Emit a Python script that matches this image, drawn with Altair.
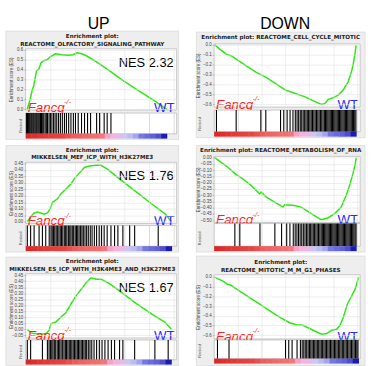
import altair as alt
import pandas as pd

# ---------------- data ----------------
headers = ["UP", "DOWN"]

l1_title = ["Enrichment plot:", "REACTOME_OLFACTORY_SIGNALING_PATHWAY"]
l2_title = ["Enrichment plot:", "MIKKELSEN_MEF_ICP_WITH_H3K27ME3"]
l3_title = ["Enrichment plot:", "MIKKELSEN_ES_ICP_WITH_H3K4ME3_AND_H3K27ME3"]
r1_title = ["Enrichment plot: REACTOME_CELL_CYCLE_MITOTIC"]
r2_title = ["Enrichment plot: REACTOME_METABOLISM_OF_RNA"]
r3_title = ["Enrichment plot:", "REACTOME_MITOTIC_M_M_G1_PHASES"]

nes_labels = ["NES 2.32", "NES 1.76", "NES 1.67"]
group_a = "Fancg"
group_a_sup = "-/-"
group_b = "WT"
es_title = "Enrichment score (ES)"
rank_title = "Ranked"

# running enrichment score curves (x = position along ranked list, % of axis)
l1_x = [1.1, 2.8, 4.3, 5.4, 7.2, 8.7, 10.2, 12.0, 14.1, 16.3, 19.6, 23.9, 28.3, 31.5,
        34.1, 37.0, 40.2, 46.7, 55.4, 64.1, 75.0, 85.9, 93.5]
l1_y = [0.00, 0.09, 0.19, 0.24, 0.39, 0.405, 0.47, 0.49, 0.50, 0.53, 0.56, 0.55, 0.545, 0.55,
        0.57, 0.56, 0.54, 0.48, 0.39, 0.295, 0.185, 0.08, 0.00]

l2_x = [1.1, 3.3, 5.6, 7.8, 10.0, 12.2, 14.4, 16.2, 17.8, 21.1, 23.3, 26.7, 30.0, 32.2,
        34.9, 36.7, 38.9, 42.2, 46.7, 50.0, 54.4, 61.1, 72.2, 83.3, 92.2, 96.7]
l2_y = [0.0, 0.038, 0.068, 0.076, 0.068, 0.058, 0.068, 0.10, 0.15, 0.177, 0.215, 0.253, 0.29, 0.33,
        0.367, 0.39, 0.418, 0.43, 0.435, 0.435, 0.404, 0.34, 0.24, 0.139, 0.063, 0.0]

l3_x = [1.1, 3.3, 5.6, 10.0, 13.3, 15.6, 16.7, 20.0, 23.3, 26.7, 30.0, 33.3, 36.7, 40.0,
        43.3, 46.7, 50.0, 54.4, 61.1, 72.2, 83.3, 92.2, 96.5]
l3_y = [0.0, -0.028, -0.036, -0.039, -0.04, -0.008, 0.046, 0.06, 0.10, 0.14, 0.21, 0.278, 0.33, 0.387,
        0.428, 0.415, 0.415, 0.387, 0.33, 0.223, 0.128, 0.06, 0.0]

r1_x = [0.5, 3.8, 8.3, 11.7, 15.1, 21.8, 28.6, 35.4, 42.1, 48.9, 55.6, 62.4, 69.1, 73.6,
        75.9, 78.2, 81.5, 84.9, 88.3, 91.7, 94.0, 95.5, 96.6, 97.3]
r1_y = [0.0, -0.043, -0.093, -0.109, -0.143, -0.209, -0.275, -0.325, -0.39, -0.457, -0.49, -0.524,
        -0.573, -0.60, -0.59, -0.55, -0.534, -0.507, -0.457, -0.375, -0.275, -0.176, -0.076, 0.0]

r2_x = [0.5, 5.0, 9.6, 14.1, 19.8, 25.5, 31.2, 32.3, 35.8, 41.5, 47.2, 48.3, 55.1, 59.7,
        66.5, 73.3, 77.9, 82.5, 87.0, 90.4, 92.7, 95.0, 96.6, 97.3]
r2_y = [0.0, -0.04, -0.079, -0.126, -0.171, -0.224, -0.29, -0.276, -0.316, -0.355, -0.395, -0.376,
        -0.382, -0.395, -0.447, -0.495, -0.482, -0.447, -0.395, -0.303, -0.224, -0.132, -0.053, 0.0]

r3_x = [0.7, 2.3, 5.8, 9.2, 11.5, 17.2, 24.1, 31.0, 37.9, 44.8, 51.7, 56.3, 60.9, 67.8,
        73.6, 77.0, 80.5, 83.9, 86.2, 88.5, 91.3, 94.3, 96.6, 98.2, 98.9]
r3_y = [0.0, -0.017, -0.04, -0.075, -0.085, -0.142, -0.21, -0.278, -0.346, -0.414, -0.471, -0.492,
        -0.498, -0.549, -0.59, -0.583, -0.549, -0.539, -0.498, -0.414, -0.278, -0.193, -0.125, -0.04, 0.0]

# gene-set hits (barcode)
l1_hits = [0.5, 1.2, 1.8, 2.4, 3.0, 3.7, 4.3, 5.0, 5.6, 6.3, 7.0, 7.6, 8.3, 9.0, 9.8, 10.5, 11.3,
           12.0, 12.9, 13.7, 14.5, 15.5, 16.4, 17.4, 18.5, 19.5, 20.6, 21.8, 23.0, 24.3, 25.7, 27.0,
           28.5, 30.0, 31.6, 33.0, 34.8, 37.0, 39.0, 41.0, 43.0, 47.0, 49.0, 52.0, 54.0, 56.5]
l2_hits = [1.1, 3.3, 5.6, 8.9, 11.1, 13.3, 15.6, 16.8, 17.6, 18.5, 19.3, 20.2, 21.0, 22.0, 22.9,
           23.7, 24.6, 25.6, 26.5, 27.3, 28.3, 29.2, 30.0, 30.9, 31.8, 32.8, 33.7, 34.5, 35.4, 36.4,
           37.3, 38.2, 39.3, 40.4, 41.5, 42.8, 44.0, 45.5, 47.0, 48.7, 50.3, 52.0, 54.0, 56.5, 58.9,
           61.1, 64.4, 68.9, 72.2, 87.8]
l3_hits = [1.1, 3.3, 11.1, 14.4, 15.5, 16.4, 17.3, 18.1, 19.0, 19.9, 20.9, 21.8, 22.6, 23.5, 24.5,
           25.4, 26.3, 27.1, 28.0, 28.9, 29.8, 30.6, 31.5, 32.4, 33.3, 34.2, 35.0, 35.9, 36.8, 37.7,
           38.6, 39.5, 40.4, 41.5, 42.6, 43.8, 45.3, 47.0, 48.8, 50.6, 52.5, 54.6, 56.8, 58.9, 62.2,
           64.4, 72.2, 85.6, 94.4]
r1_hits = [1.6, 15.1, 32.0, 35.4, 45.5, 47.7, 50.0, 52.0, 54.0, 55.6, 56.8, 57.9, 59.0, 60.0, 61.0,
           62.0, 62.9, 63.8, 64.7, 65.6, 66.5, 67.4, 68.3, 69.2, 70.1, 71.0, 71.9, 72.8, 73.7, 74.6,
           75.5, 76.3, 77.1, 77.9, 78.7, 79.5, 80.3, 81.1, 81.9, 82.7, 83.5, 84.3, 85.1, 85.9, 86.7,
           87.5, 88.3, 89.1, 89.9, 90.7, 91.5, 92.3, 93.1, 93.9, 94.7, 95.5, 96.3, 97.1]
r2_hits = [14.2, 17.6, 31.4, 41.6, 46.2, 49.7, 51.9, 54.2, 55.5, 56.7, 57.8, 58.9, 60.0, 61.1, 62.2,
           63.2, 64.2, 65.2, 66.1, 67.0, 67.9, 68.8, 69.7, 70.6, 71.5, 72.4, 73.3, 74.1, 74.9, 75.7,
           76.5, 77.3, 78.1, 78.9, 79.7, 80.5, 81.3, 82.1, 82.9, 83.7, 84.5, 85.3, 86.1, 86.9, 87.7,
           88.5, 89.3, 90.1, 90.9, 91.7, 92.5, 93.3, 94.1, 94.9, 95.7, 96.5, 97.2]
r3_hits = [2.3, 10.2, 48.9, 51.1, 53.4, 56.8, 59.1, 60.3, 61.4, 62.4, 63.4, 64.4, 65.3, 66.2, 67.1,
           68.0, 68.9, 69.8, 70.7, 71.6, 72.5, 73.4, 74.3, 75.2, 76.1, 77.0, 77.9, 78.8, 79.7, 80.6,
           81.5, 82.4, 83.3, 84.2, 85.1, 86.0, 86.9, 87.8, 88.7, 89.6, 90.5, 91.4, 92.3, 93.2, 94.1,
           95.0, 95.9, 96.8, 97.7, 98.5]

# ranked-list metric, in bands from the top to the bottom of the list
metric_bands = [1.0, 0.97, 0.94, 0.92, 0.9, 0.88, 0.86, 0.8, 0.72, 0.68, 0.65, 0.62, 0.6, 0.56,
                0.3, 0.2, 0.1, -0.15, -0.25, -0.35, -0.55, -0.6, -0.65, -0.75, -1.0]

# axis ticks
l1_ticks = [0.0, 0.1, 0.2, 0.3, 0.4, 0.5, 0.6]
l2_ticks = [0.0, 0.05, 0.10, 0.15, 0.20, 0.25, 0.30, 0.35, 0.40, 0.45]
l3_ticks = [-0.05, 0.0, 0.05, 0.10, 0.15, 0.20, 0.25, 0.30, 0.35, 0.40, 0.45]
r1_ticks = [0.0, -0.1, -0.2, -0.3, -0.4, -0.5, -0.6]
r2_ticks = [0.0, -0.05, -0.10, -0.15, -0.20, -0.25, -0.30, -0.35, -0.40, -0.45, -0.50]
r3_ticks = [0.0, -0.1, -0.2, -0.3, -0.4, -0.5, -0.6]
grid_x = [16.3, 32.6, 48.9, 65.2, 81.5, 97.8]

# ---------------- styling ----------------
GREEN = "#2ee814"
RED = "#ff2020"
BLUE = "#2a2aff"
FRAME_FILL = "#eeeeee"
FRAME_STROKE = "#d2d2d2"
BORDER = "#a8a8a8"
GRID = "#e2e2e2"
SANS = "Liberation Sans"
TITLE_FONT = "DejaVu Sans"
XS = alt.Scale(domain=[0, 100], nice=False, zero=False)
one = pd.DataFrame({"k": [0]})
NOSTROKE = alt.ViewBackground(stroke="transparent")


def txt(text, x, y, **kw):
    return alt.Chart(one).mark_text(text=text, **kw).encode(x=alt.value(x), y=alt.value(y))


def blank(w, h, label=None, lx=0, ly=0):
    layers = [alt.Chart(one).mark_point(opacity=0).encode(x=alt.value(0), y=alt.value(0))]
    if label:
        layers.append(txt(label, lx, ly, font=SANS, fontSize=16, color="black", align="center"))
    return alt.layer(*layers).properties(width=w, height=h, view=NOSTROKE)


def line_cell(title_lines, xs, ys, ydom, yticks, yfmt, nes, w, h, below, fl, fr, ft, ytitle_x):
    frame = alt.Chart(one).mark_rect(fill=FRAME_FILL, stroke=FRAME_STROKE, strokeWidth=0.6).encode(
        x=alt.value(-fl), x2=alt.value(w + fr), y=alt.value(-ft), y2=alt.value(h + below))
    plot_bg = alt.Chart(one).mark_rect(fill="white", stroke=BORDER, strokeWidth=0.6).encode(
        x=alt.value(0), x2=alt.value(w), y=alt.value(0), y2=alt.value(h))
    df = pd.DataFrame({"x": xs, "y": ys})
    line = alt.Chart(df).mark_line(color=GREEN, strokeWidth=1.5).encode(
        x=alt.X("x:Q", scale=XS,
                axis=alt.Axis(values=grid_x, grid=True, gridColor=GRID, gridWidth=0.6,
                              labels=False, ticks=False, domain=False, title=None, zindex=1)),
        y=alt.Y("y:Q", scale=alt.Scale(domain=ydom, nice=False, zero=False),
                axis=alt.Axis(values=yticks, format=yfmt, grid=True, gridColor=GRID, gridWidth=0.6,
                              domain=False, tickSize=2, tickColor="#999", tickWidth=0.5,
                              labelFontSize=4.5, labelFont=SANS, labelColor="#444",
                              labelPadding=1, labelOverlap=False,
                              title=es_title, titleFontSize=4.5, titleFont=SANS,
                              titleFontWeight="normal", titleColor="#444",
                              titleX=ytitle_x, titleY=h / 2, titleBaseline="middle",
                              zindex=1)))
    layers = [frame, plot_bg, line]
    cx = (-fl + w + fr) / 2
    ty = [-12.5, -5.2] if len(title_lines) == 2 else [-6.7]
    for t, yy in zip(title_lines, ty):
        layers.append(txt(t, cx, yy, font=TITLE_FONT, fontSize=5.7, fontWeight="bold",
                          color="#222222", align="center", baseline="middle"))
    if nes:
        layers.append(txt(nes, w - 3, 14, font=SANS, fontSize=13, color="black", align="right"))
    layers.append(txt(group_a, 2, h - 2, font=SANS, fontSize=13.5, fontStyle="italic",
                      color=RED, align="left"))
    layers.append(txt(group_a_sup, 39, h - 8, font=SANS, fontSize=7.5, fontStyle="italic",
                      color=RED, align="left"))
    layers.append(txt(group_b, w - 2, h - 2, font=SANS, fontSize=13.5, color=BLUE, align="right"))
    return alt.layer(*layers).properties(width=w, height=h)


def barcode_cell(hits, w, hb, rank_x):
    dh = pd.DataFrame({"x": hits})
    rules = alt.Chart(dh).mark_rule(color="black", strokeWidth=1.1).encode(
        x=alt.X("x:Q", scale=XS,
                axis=alt.Axis(values=grid_x, grid=True, gridColor="#c4c4c4", gridWidth=0.6,
                              labels=False, ticks=False, domain=False, title=None)))
    lab = txt(rank_title, rank_x, hb - 1, font=SANS, fontSize=4, color="#555",
              angle=270, align="left", baseline="middle")
    return alt.layer(rules, lab).properties(
        width=w, height=hb, view=alt.ViewBackground(fill="white", stroke=BORDER, strokeWidth=0.6))


def gradient_cell(end, w, hg):
    n = len(metric_bands)
    dg = pd.DataFrame({"start": [end * i / n for i in range(n)],
                       "stop": [end * (i + 1) / n + 0.3 for i in range(n)],
                       "metric": metric_bands})
    bar = alt.Chart(dg).mark_rect(strokeWidth=0).encode(
        x=alt.X("start:Q", scale=XS, axis=None), x2="stop:Q",
        color=alt.Color("metric:Q", legend=None,
                        scale=alt.Scale(domain=[-1, -0.6, -0.2, 0.2, 0.6, 1],
                                        range=["#1a1ab4", "#6a6ae0", "#c8c8f2", "#f2b4dc",
                                               "#f07070", "#dc2828"])))
    return alt.layer(bar).properties(width=w, height=hg, view=NOSTROKE)


def panel(title_lines, xs, ys, ydom, yticks, yfmt, hits, nes, w, h, gap, hb, hg,
          fl, fr, ft, fb, ytitle_x, rank_x):
    below = gap + hb + hg + fb
    return [line_cell(title_lines, xs, ys, ydom, yticks, yfmt, nes, w, h, below, fl, fr, ft, ytitle_x),
            blank(w, gap),
            barcode_cell(hits, w, hb, rank_x),
            gradient_cell(xs[-1], w, hg)]


WL, WR = 153, 148

left_cells = ([blank(WL, 43, headers[0], 74, 18)]
              + panel(l1_title, l1_x, l1_y, [-0.007, 0.61], l1_ticks, ".1f", l1_hits, nes_labels[0],
                      WL, 62, 3, 21, 5, 20, 2, 18, 1, -14, -5)
              + [blank(WL, 24)]
              + panel(l2_title, l2_x, l2_y, [-0.013, 0.458], l2_ticks, ".2f", l2_hits, nes_labels[1],
                      WL, 62, 2, 21, 5, 20, 2, 17, 1, -14, -5)
              + [blank(WL, 23)]
              + panel(l3_title, l3_x, l3_y, [-0.072, 0.461], l3_ticks, ".2f", l3_hits, nes_labels[2],
                      WL, 65, 2, 20, 5, 20, 2, 17, 1, -14, -5))
right_cells = ([blank(WR, 38, headers[1], 72, 18)]
               + panel(r1_title, r1_x, r1_y, [-0.627, 0.01], r1_ticks, ".1f", r1_hits, None,
                       WR, 64, 3, 22, 5, 18, 5, 12, 1, -16, -14)
               + [blank(WR, 20)]
               + panel(r2_title, r2_x, r2_y, [-0.518, 0.01], r2_ticks, ".2f", r2_hits, None,
                       WR, 67, 1, 23, 5, 18, 5, 11, 1, -16, -14)
               + [blank(WR, 24)]
               + panel(r3_title, r3_x, r3_y, [-0.638, 0.023], r3_ticks, ".1f", r3_hits, None,
                       WR, 65, 1, 19, 5, 18, 5, 19, 2, -16, -14))

left = alt.vconcat(*left_cells, spacing=0, bounds="flush")
right = alt.vconcat(*right_cells, spacing=0, bounds="flush")

chart = alt.hconcat(left, right, spacing=15, bounds="full").properties(
    padding={"left": 5, "top": 0, "right": 5, "bottom": 0}
).configure(background="white").configure_view(stroke="transparent")

chart.save("out.html", embed_options={"renderer": "svg", "actions": False})
